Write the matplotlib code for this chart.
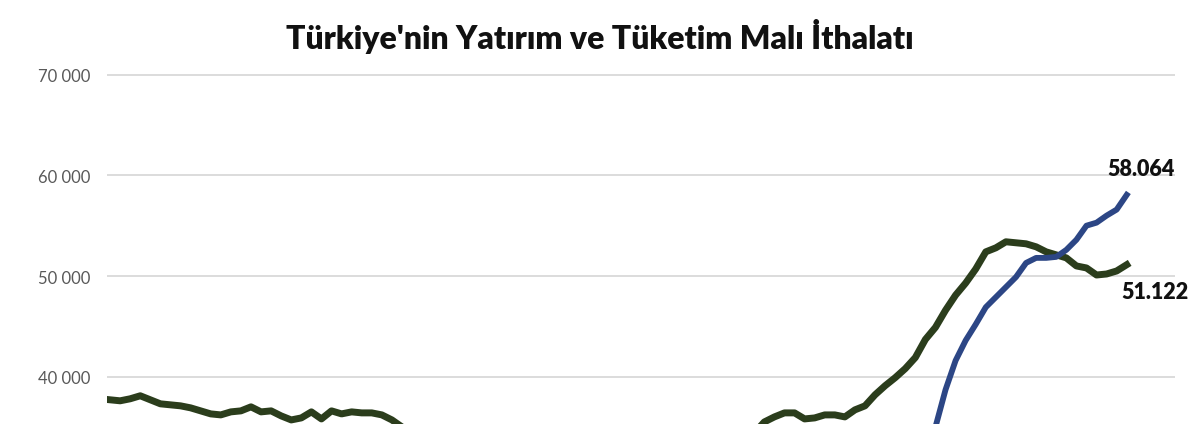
import numpy as np
import matplotlib
matplotlib.use("Agg")
import matplotlib.pyplot as plt
from matplotlib.ticker import FuncFormatter

title = "Türkiye'nin Yatırım ve Tüketim Malı İthalatı"

# yatırım malı (green) - monthly, 12-month totals, million $
yatirim = [37700, 37600, 37800, 38100, 37700, 37300, 37200, 37100, 36900, 36600,
           36300, 36200, 36500, 36600, 37000, 36500, 36600, 36100, 35700, 35900,
           36500, 35800, 36600, 36300, 36500, 36400, 36400, 36200, 35700, 35000,
           34600, 34300, 34100, 33800, 33600, 33400, 33200, 33000, 32800, 32600,
           32500, 32300, 32200, 32100, 32000, 32100, 32300, 32500, 32700, 32900,
           33100, 33300, 33500, 33700, 33800, 33900, 34000, 34000, 34100, 34100,
           34200, 34200, 34300, 34300, 34400, 35500, 36000, 36400, 36400, 35800,
           35900, 36200, 36200, 36000, 36700, 37100, 38200, 39100, 39900, 40800,
           41900, 43700, 44900, 46600, 48100, 49300, 50700, 52400, 52800, 53400,
           53300, 53200, 52900, 52400, 52100, 51800, 51000, 50800, 50100, 50200,
           50500, 51122]

# tüketim malı (blue) - below the visible range until the last months
tuketim = [np.nan] * 80 + [30500, 32500, 35000, 38700, 41600, 43600, 45200, 46900,
                           47900, 48900, 49900, 51300, 51800, 51800, 51900, 52600,
                           53600, 55000, 55300, 56000, 56600, 58064]

months = np.arange(len(yatirim))
yticks = [40000, 50000, 60000, 70000]

fig = plt.figure(figsize=(12, 4.39), dpi=100)
ax = fig.add_axes([0.0892, 0.032, 0.89, 0.829])

ax.plot(months, yatirim, color="#2b3d1c", lw=5.0, solid_joinstyle="round", zorder=3)
ax.plot(months, tuketim, color="#2c4685", lw=4.2, solid_joinstyle="round", zorder=4)

ax.set_xlim(-0.3, 105.8)
ax.set_ylim(35300, 71460)
ax.set_yticks(yticks)
ax.yaxis.set_major_formatter(FuncFormatter(lambda v, p: f"{int(v):,}".replace(",", " ")))
ax.set_xticks([])
ax.tick_params(axis="y", length=0, pad=12, labelsize=12, labelcolor="#595959")
for lab in ax.get_yticklabels():
    lab.set_family("Lato")
ax.grid(axis="y", color="#d9d9d9", lw=1.3)
ax.set_axisbelow(True)
for s in ax.spines.values():
    s.set_visible(False)

ax.annotate(f"{tuketim[-1]/1000:.3f}", (months[-1], tuketim[-1]), xytext=(10, 19),
            textcoords="offset points", ha="center", va="center",
            fontsize=15.5, fontweight="heavy", family="Lato", color="#111111")
ax.annotate(f"{yatirim[-1]/1000:.3f}", (months[-1], yatirim[-1]), xytext=(20, -19),
            textcoords="offset points", ha="center", va="center",
            fontsize=15.5, fontweight="heavy", family="Lato", color="#111111")

fig.text(0.5, 1 - 37 / 439, title, ha="center", va="center", fontsize=23,
         fontweight="heavy", family="Lato", color="#111111")

fig.savefig("out.png", dpi=100, facecolor="white")
